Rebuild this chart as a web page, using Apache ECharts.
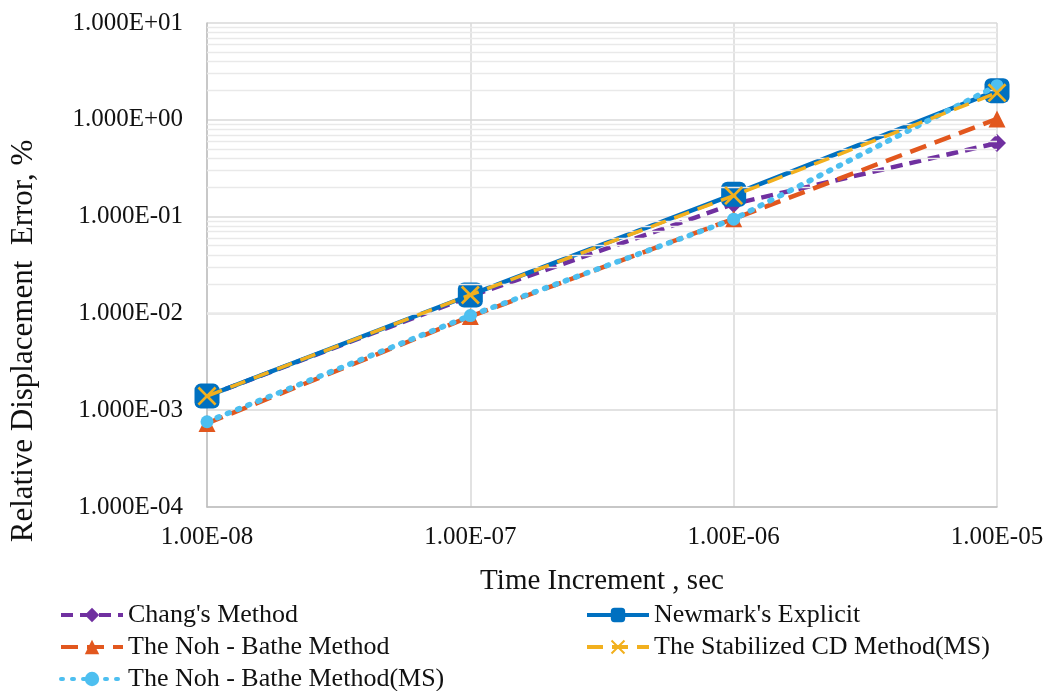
<!DOCTYPE html>
<html>
<head>
<meta charset="utf-8">
<script src="https://cdn.jsdelivr.net/npm/echarts@6/dist/echarts.min.js"></script>
<style>
  html, body { margin: 0; padding: 0; background: #fff; }
  #chart { width: 1051px; height: 691px; }
</style>
</head>
<body>
<div id="chart"></div>
<script>
// time increments (sec)
const timeSteps = [1e-8, 1e-7, 1e-6, 1e-5];
// relative displacement error, %
const chang = [1.4e-3, 1.5e-2, 0.135, 0.575];
const newmark = [1.4e-3, 1.55e-2, 0.17, 2.0];
const nohBathe = [7.3e-4, 9.3e-3, 0.095, 1.02];
const stabilizedCD = [1.4e-3, 1.55e-2, 0.165, 1.9];
const nohBatheMS = [7.6e-4, 9.5e-3, 0.094, 2.25];

const xDecades = [-8, -7, -6];
const yDecades = [-4, -3, -2, -1, 0];

const FONT = '"Liberation Serif", "Times New Roman", serif';

function sci(v, digits) {
  const e = Math.round(Math.log10(v));
  const m = v / Math.pow(10, e);
  return m.toFixed(digits) + 'E' + (e < 0 ? '-' : '+') + String(Math.abs(e)).padStart(2, '0');
}

// minor gridlines at 2..9 of each decade
function minors(decades) {
  const out = [];
  decades.forEach(d => {
    for (let k = 2; k <= 9; k++) out.push(k * Math.pow(10, d));
  });
  return out;
}

function pairs(ys) {
  return timeSteps.map((t, i) => [t, ys[i]]);
}

const xMark = 'path://M2,0 L10,8 L18,0 L20,2 L12,10 L20,18 L18,20 L10,12 L2,20 L0,18 L8,10 L0,2 Z';

const legendCommon = {
  orient: 'vertical',
  top: 597, height: 100,
  itemWidth: 62, itemHeight: 18, itemGap: 6,
  lineStyle: { width: 4 },
  textStyle: { fontFamily: FONT, fontSize: 26, lineHeight: 26, color: '#111' }
};

let myChart = echarts.init(document.getElementById('chart'));
myChart.setOption({
  animation: false,
  grid: { left: 207, right: 54, top: 23, bottom: 184 },
  xAxis: {
    type: 'log',
    logBase: 10,
    min: 1e-8,
    max: 1e-5,
    axisLine: { show: true, lineStyle: { color: '#bfbfbf', width: 1.5 } },
    axisTick: { show: false },
    axisLabel: {
      margin: 18,
      fontFamily: FONT, fontSize: 25, color: '#111',
      formatter: v => sci(v, 2)
    },
    splitLine: { show: true, lineStyle: { color: '#d9d9d9', width: 1.5 } },
    name: 'Time Increment , sec',
    nameLocation: 'middle',
    nameGap: 60,
    nameTextStyle: { fontFamily: FONT, fontSize: 29, color: '#111' }
  },
  yAxis: {
    type: 'log',
    logBase: 10,
    min: 1e-4,
    max: 10,
    axisLine: { show: true, lineStyle: { color: '#bfbfbf', width: 1.5 } },
    axisTick: { show: false },
    axisLabel: {
      margin: 24,
      fontFamily: FONT, fontSize: 25, color: '#111',
      formatter: v => sci(v, 3)
    },
    splitLine: { show: true, lineStyle: { color: '#d9d9d9', width: 1.5 } }
  },
  graphic: [{
    type: 'text',
    x: 24, y: 341,
    rotation: Math.PI / 2,
    style: {
      text: 'Relative Displacement  Error, %',
      font: '31px ' + FONT,
      fill: '#111',
      textAlign: 'center',
      textVerticalAlign: 'middle'
    }
  }],
  legend: [
    Object.assign({}, legendCommon, {
      left: 54,
      data: ["Chang's Method", 'The Noh - Bathe Method', 'The Noh - Bathe Method(MS)']
    }),
    Object.assign({}, legendCommon, {
      left: 580,
      data: ["Newmark's Explicit", 'The Stabilized CD Method(MS)']
    })
  ],
  series: [
    {
      type: 'line', name: 'grid-minor', data: [], z: 1, silent: true,
      markLine: {
        silent: true, symbol: ['none', 'none'], label: { show: false },
        lineStyle: { type: 'solid', color: '#e9e9e9', width: 1.3 },
        data: minors(xDecades).map(v => ({ xAxis: v }))
          .concat(minors(yDecades).map(v => ({ yAxis: v })))
      }
    },
    {
      name: "Chang's Method", type: 'line', z: 3,
      data: pairs(chang),
      symbol: 'diamond', symbolSize: 18,
      itemStyle: { color: '#7030A0' },
      lineStyle: { color: '#7030A0', width: 4.5, type: [12, 7] }
    },
    {
      name: "Newmark's Explicit", type: 'line', z: 4,
      data: pairs(newmark),
      symbol: 'roundRect', symbolSize: 25,
      itemStyle: { color: '#0070C0' },
      lineStyle: { color: '#0070C0', width: 4.5, type: 'solid' }
    },
    {
      name: 'The Noh - Bathe Method', type: 'line', z: 5,
      data: pairs(nohBathe),
      symbol: 'triangle', symbolSize: 17,
      itemStyle: { color: '#E2571E' },
      lineStyle: { color: '#E2571E', width: 4.5, type: [17, 9] }
    },
    {
      name: 'The Noh - Bathe Method(MS)', type: 'line', z: 6,
      data: pairs(nohBatheMS),
      symbol: 'circle', symbolSize: 13,
      itemStyle: { color: '#4DBFF0' },
      lineStyle: { color: '#4DBFF0', width: 5.5, type: [2, 9], cap: 'round' }
    },
    {
      name: 'The Stabilized CD Method(MS)', type: 'line', z: 7,
      data: pairs(stabilizedCD),
      symbol: xMark, symbolSize: 19,
      itemStyle: { color: '#F2B01E' },
      lineStyle: { color: '#F2B01E', width: 3.5, type: [16, 9] }
    }
  ]
});
</script>
</body>
</html>
